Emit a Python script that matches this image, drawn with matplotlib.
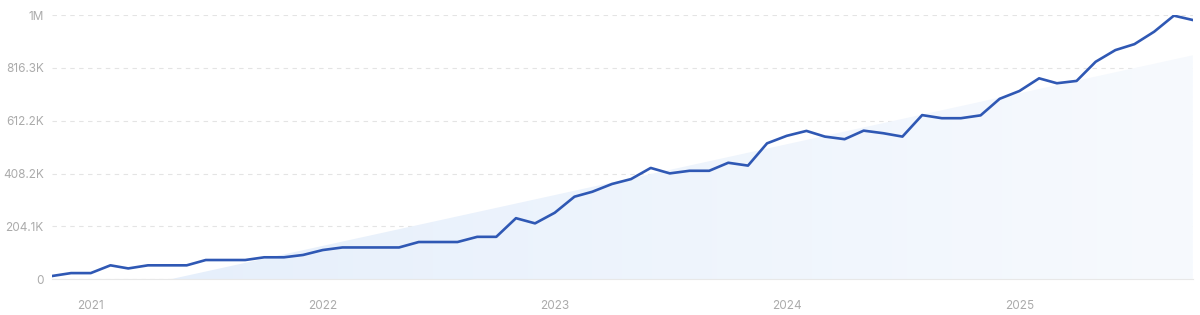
import numpy as np
import pandas as pd
import matplotlib
matplotlib.use('Agg')
import matplotlib.pyplot as plt
import matplotlib.dates as mdates
from matplotlib.colors import LinearSegmentedColormap

plt.rcParams['font.family'] = ['Inter', 'DejaVu Sans']

# monthly values, Nov 2020 .. Oct 2025 (in thousands)
months = pd.date_range('2020-11-01', periods=60, freq='MS')
values_k = [12.7, 24, 24, 54, 42, 54, 54, 54, 74.5, 74.5,
            74.5, 85, 85, 94, 113, 123, 123, 123, 123, 144,
            144, 144, 164, 164, 236, 216, 257, 319, 338, 368,
            387, 430, 409, 419, 419, 450, 439, 525, 554, 573,
            551, 541, 574, 564, 551, 634, 622, 622, 633, 697,
            727, 776, 757, 766, 840, 885, 908, 956, 1018, 1001]
# trend line value at first and last month (thousands)
trend_k = [-100, 865]

ytick_values = [0, 204.1e3, 408.2e3, 612.2e3, 816.3e3, 1020.4e3]
ytick_labels = ['0', '204.1K', '408.2K', '612.2K', '816.3K', '1M']
year_labels = ['2021', '2022', '2023', '2024', '2025']

#------------------------------------------------------------------------------
x = mdates.date2num(months)
y = np.array(values_k) * 1000
xt = [x[0], x[-1]]
yt = np.array(trend_k) * 1000
ymax = ytick_values[-1]

fig = plt.figure(figsize=(12, 3.15), dpi=100)
ax = fig.add_axes([0.0433, 0.1133, 0.9508, 0.839])

# trend area with a horizontal gradient
poly = ax.fill_between(xt, 0, yt, color='none', lw=0)
cmap = LinearSegmentedColormap.from_list('fade', ['#e4eefb', '#f7fafe'], N=1024)
grad = np.linspace(0, 1, 1024).reshape(1, -1)
im = ax.imshow(grad, extent=[x[0], x[-1], 0, ymax], aspect='auto',
               cmap=cmap, origin='lower', zorder=1, interpolation='bilinear')
im.set_clip_path(poly.get_paths()[0], ax.transData)

ax.plot(x, y, color='#2f58b4', lw=1.9, zorder=3, solid_joinstyle='round')

ax.set_xlim(x[0], x[-1])
ax.set_ylim(0, ymax)
ax.set_yticks(ytick_values)
ax.set_yticklabels(ytick_labels)
yr_ticks = [mdates.date2num(pd.Timestamp(s + '-01-01')) for s in year_labels]
ax.set_xticks(yr_ticks)
ax.set_xticklabels(year_labels)

ax.tick_params(axis='y', length=0, pad=6, labelsize=8.5, labelcolor='#ababab')
ax.tick_params(axis='x', length=0, pad=15, labelsize=8.5, labelcolor='#ababab')
ax.yaxis.grid(True, ls=(0, (4, 4)), color='#e4e4e4', lw=0.8)
ax.set_axisbelow(True)
for s in ['top', 'right', 'left']:
    ax.spines[s].set_visible(False)
ax.spines['bottom'].set_color('#e8e8e8')
ax.spines['bottom'].set_linewidth(0.8)

fig.savefig('out.png', dpi=100)
